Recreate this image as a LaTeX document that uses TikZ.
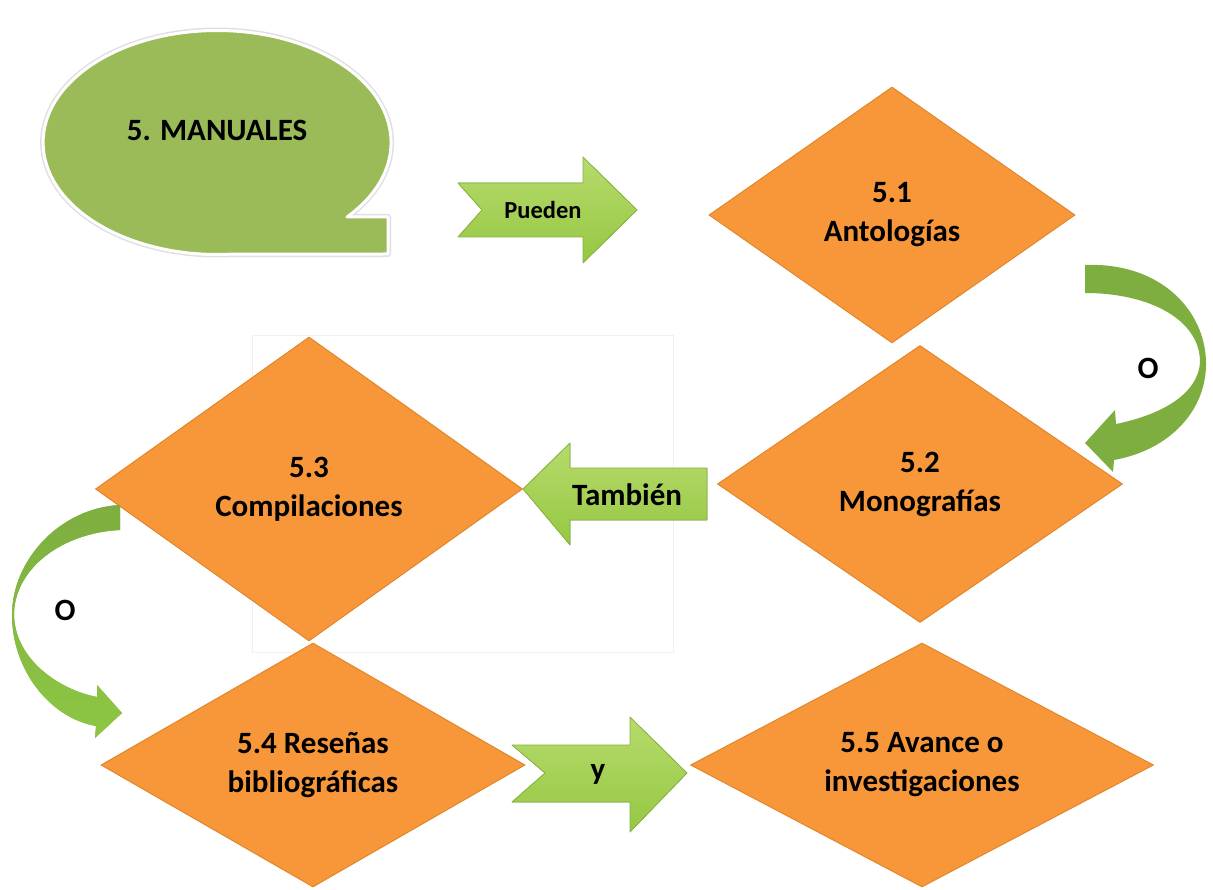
\documentclass[tikz,border=0pt]{standalone}
\usepackage{fontspec}
\setmainfont{Carlito}
\usetikzlibrary{shapes.geometric}
\definecolor{bubblegreen}{HTML}{9BBB59}
\definecolor{arrowgreen}{HTML}{A4CD4E}
\definecolor{arrowtop}{HTML}{B6DB6C}
\definecolor{arrowbottom}{HTML}{96C743}
\definecolor{arrowedge}{HTML}{86B33A}
\definecolor{curvegreen}{HTML}{7EAE3F}
\definecolor{curvelight}{HTML}{8DC744}
\definecolor{boxorange}{HTML}{F7973A}
\definecolor{boxedge}{HTML}{E2862C}
\tikzset{
  box/.style={diamond, aspect=1.9, inner sep=0pt, fill=boxorange, draw=boxedge,
    line width=1pt, align=center, font=\fontsize{31}{39}\selectfont\bfseries},
  blockarrow/.style={top color=arrowtop, bottom color=arrowbottom, draw=arrowedge,
    line width=0.8pt, line join=round},
  curvearrow/.style={fill=curvegreen, draw=none},
  txt/.style={font=\fontsize{31}{39}\selectfont\bfseries}
}
\begin{document}
\begin{tikzpicture}[x=1pt, y=-1pt]
	\useasboundingbox (0,0) rectangle (1213,890);
	\draw[black!6] (252,335) rectangle (673,652);
	% bubble
	\draw[black!12, line width=6pt, line join=round]
	  (347,217) arc[start angle=41.7, end angle=-275, x radius=174, y radius=112]
	  -- (388,254) -- (388,217) -- cycle;
	\filldraw[fill=bubblegreen, draw=white, line width=3pt, line join=round]
	  (347,217) arc[start angle=41.7, end angle=-275, x radius=174, y radius=112]
	  -- (388,254) -- (388,217) -- cycle;
	\node[txt] (manuales) at (217,130) {5. MANUALES};
	% diamonds
	\node[box, minimum width=366, minimum height=256] (antologias) at (892,215) {5.1\\Antologías};
	\node[box, minimum width=405, minimum height=277] (monografias) at (920,484) {5.2\\Monografías};
	\node[box, minimum width=427, minimum height=304] (compilaciones) at (309,489) {5.3\\Compilaciones};
	\node[box, minimum width=424, minimum height=244] (resenas) at (313,765) {5.4 Reseñas\\bibliográficas};
	\node[box, minimum width=463, minimum height=244] (avance) at (922,765) {5.5 Avance o\\investigaciones};
	% block arrows
	\filldraw[blockarrow] (637,210) -- (583,157) -- (583,183) -- (458,183) -- (482,210)
	  -- (458,237) -- (583,237) -- (583,263) -- cycle;
	\node[txt, font=\fontsize{24.5}{30}\selectfont\bfseries] (pueden) at (543,210) {Pueden};
	\filldraw[blockarrow] (compilaciones.east) -- (570,443) -- (570,468) -- (707,468)
	  -- (707,520) -- (570,520) -- (570,545) -- cycle;
	\node[txt] (tambien) at (627,495) {También};
	\filldraw[blockarrow] (687,773) -- (630,717) -- (630,745) -- (512,745) -- (545,773)
	  -- (512,802) -- (630,802) -- (630,832) -- cycle;
	\node[txt] (ylbl) at (598,774) {y};
	% curved arrows
	\fill[curvearrow] (1085,265) .. controls (1160,262) and (1205,310) .. (1206,362)
	  .. controls (1207,410) and (1170,450) .. (1114,460) -- (1113,472) -- (1085,443)
	  -- (1115,410) -- (1116,424) .. controls (1160,415) and (1198,395) .. (1200,362)
	  .. controls (1200,320) and (1150,293) .. (1085,293) -- cycle;
	\node[txt] (o1) at (1148,368) {O};
	\fill[curvearrow, top color=curvegreen, bottom color=curvelight]
	  (120,505) .. controls (60,508) and (12,560) .. (12,615)
	  .. controls (12,670) and (50,718) .. (96,726) -- (95,738) -- (122,713)
	  -- (97,685) -- (97,697) .. controls (60,690) and (15,660) .. (14,615)
	  .. controls (14,570) and (60,533) .. (120,530) -- cycle;
	\node[txt] (o2) at (65,610) {O};
\end{tikzpicture}
\end{document}
